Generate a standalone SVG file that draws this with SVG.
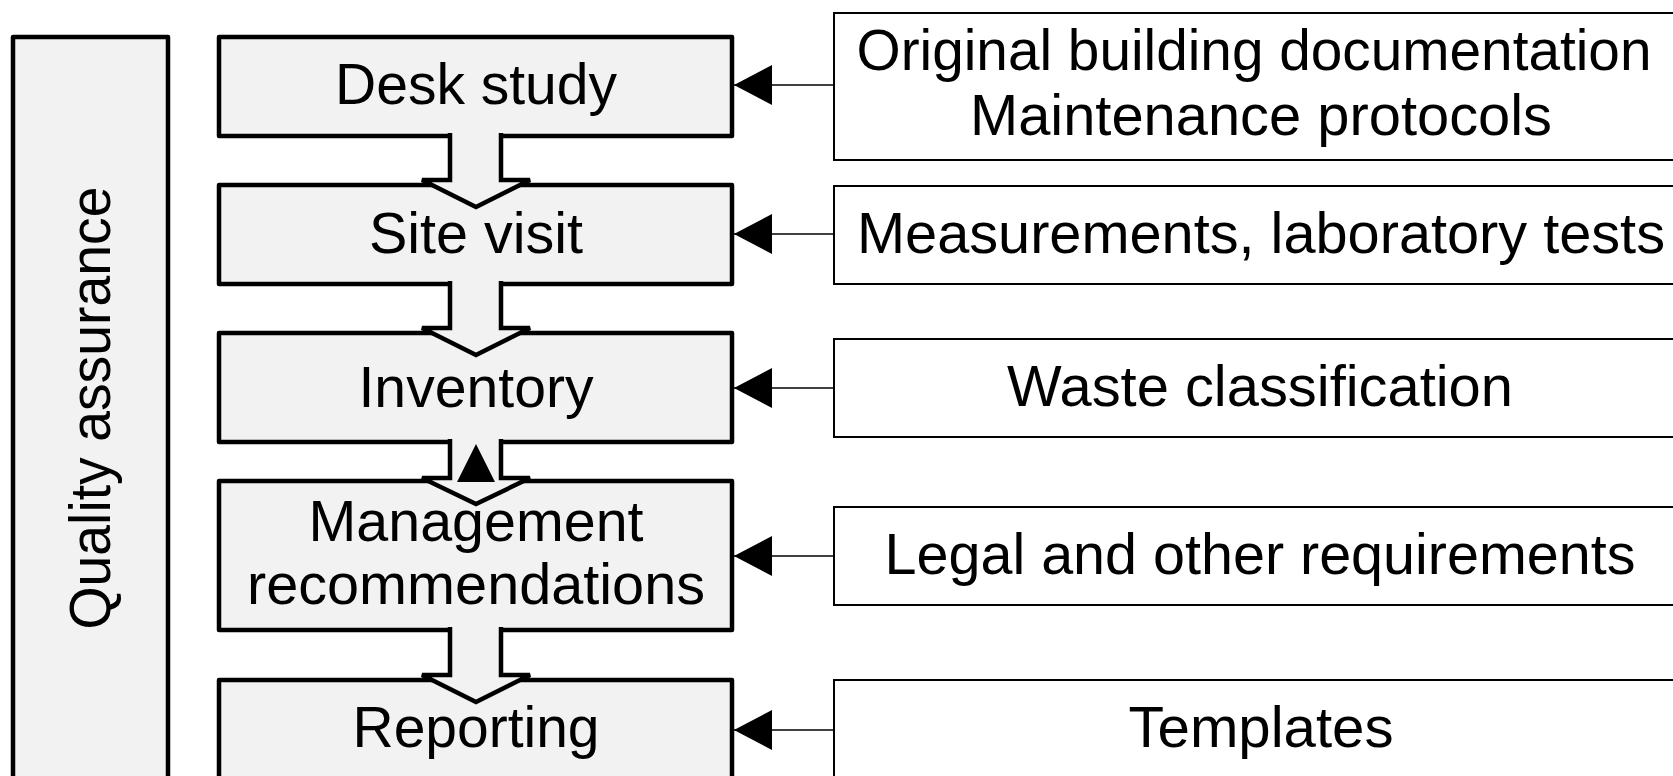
<svg xmlns="http://www.w3.org/2000/svg" width="1673" height="776" viewBox="0 0 1673 776">
<defs>
<style>
.step{fill:#f2f2f2;stroke:#000;stroke-width:4.5;stroke-linejoin:round}
.src{fill:#fff;stroke:#000;stroke-width:2}
.flow{fill:#f2f2f2;stroke:#000;stroke-width:4.5;stroke-linejoin:miter}
.conn{stroke:#000;stroke-width:1.6;fill:none}
text{font-family:"Liberation Sans",Arial,sans-serif;font-size:58px;fill:#000}
.c{text-anchor:middle}
</style>
<marker id="ah" viewBox="0 0 38 40" refX="38" refY="20" markerWidth="38" markerHeight="40" markerUnits="userSpaceOnUse" orient="auto">
<path d="M0,0 L38,20 L0,40 z" fill="#000"/>
</marker>
</defs>
<rect width="1673" height="776" fill="#fff"/>

<g id="qa">
<rect class="step" x="13" y="37" width="155" height="780"/>
<text class="c" transform="translate(110,408) rotate(-90)" textLength="443" lengthAdjust="spacingAndGlyphs" x="0" y="0">Quality assurance</text>
</g>

<g id="desk">
<rect class="step" x="219" y="37" width="513" height="99"/>
<text class="c" x="476" y="104" textLength="282" lengthAdjust="spacingAndGlyphs">Desk study</text>
</g>
<g id="site">
<rect class="step" x="219" y="185" width="513" height="99"/>
<text class="c" x="476" y="253" textLength="214" lengthAdjust="spacingAndGlyphs">Site visit</text>
</g>
<g id="inventory">
<rect class="step" x="219" y="333" width="513" height="109"/>
<text class="c" x="476" y="407" textLength="235" lengthAdjust="spacingAndGlyphs">Inventory</text>
</g>
<g id="management">
<rect class="step" x="219" y="481" width="513" height="149"/>
<text class="c" x="476" y="541" textLength="335" lengthAdjust="spacingAndGlyphs">Management</text>
<text class="c" x="476" y="604" textLength="458" lengthAdjust="spacingAndGlyphs">recommendations</text>
</g>
<g id="reporting">
<rect class="step" x="219" y="680" width="513" height="140"/>
<text class="c" x="476" y="747" textLength="247" lengthAdjust="spacingAndGlyphs">Reporting</text>
</g>

<g id="src1">
<rect class="src" x="834" y="13" width="900" height="147"/>
<text class="c" x="1254" y="70" textLength="795" lengthAdjust="spacingAndGlyphs">Original building documentation</text>
<text class="c" x="1261" y="135" textLength="582" lengthAdjust="spacingAndGlyphs">Maintenance protocols</text>
</g>
<g id="src2">
<rect class="src" x="834" y="186" width="900" height="98"/>
<text class="c" x="1261" y="253" textLength="808" lengthAdjust="spacingAndGlyphs">Measurements, laboratory tests</text>
</g>
<g id="src3">
<rect class="src" x="834" y="339" width="900" height="98"/>
<text class="c" x="1260" y="406" textLength="506" lengthAdjust="spacingAndGlyphs">Waste classification</text>
</g>
<g id="src4">
<rect class="src" x="834" y="507" width="900" height="98"/>
<text class="c" x="1260" y="574" textLength="751" lengthAdjust="spacingAndGlyphs">Legal and other requirements</text>
</g>
<g id="src5">
<rect class="src" x="834" y="680" width="900" height="140"/>
<text class="c" x="1261" y="747" textLength="265" lengthAdjust="spacingAndGlyphs">Templates</text>
</g>

<g id="connectors">
<path class="flow" d="M450,133 V180 H422 L476,207 L530,180 H501 V133"/>
<path class="flow" d="M450,281 V328 H422 L476,355 L530,328 H501 V281"/>
<path class="flow" d="M450,439 V478 H422 L476,504 L530,478 H501 V439"/>
<path d="M476,444 L495,482 L457,482 z" fill="#000"/>
<path class="flow" d="M450,627 V675 H422 L476,702 L530,675 H501 V627"/>
<line class="conn" x1="834" y1="85" x2="734" y2="85" marker-end="url(#ah)"/>
<line class="conn" x1="834" y1="234" x2="734" y2="234" marker-end="url(#ah)"/>
<line class="conn" x1="834" y1="388" x2="734" y2="388" marker-end="url(#ah)"/>
<line class="conn" x1="834" y1="556" x2="734" y2="556" marker-end="url(#ah)"/>
<line class="conn" x1="834" y1="730" x2="734" y2="730" marker-end="url(#ah)"/>
</g>
</svg>
